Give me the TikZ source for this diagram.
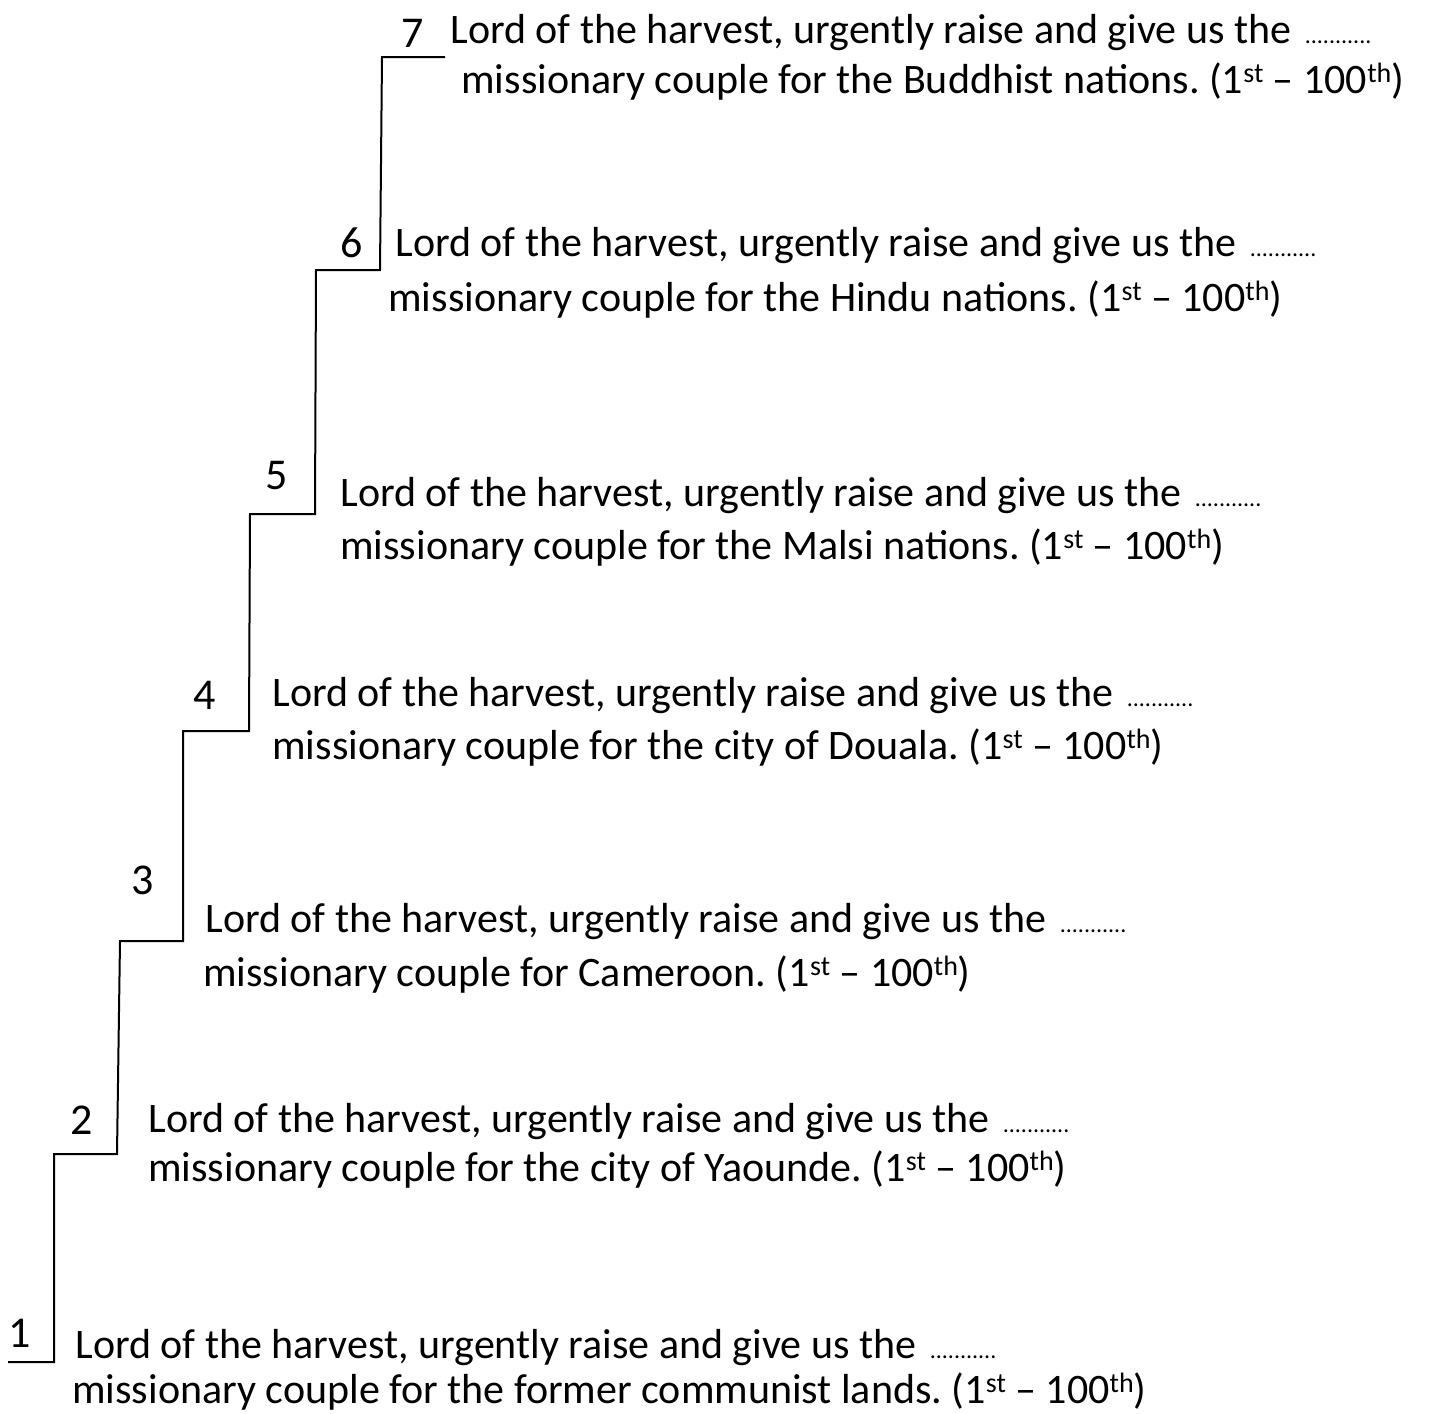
\documentclass[tikz,border=0pt]{standalone}
\usepackage{fontspec}
\setmainfont{Carlito}
\usetikzlibrary{positioning}
\frenchspacing

\tikzset{
  stair/.style={line width=1pt},
  stepnum/.style={anchor=base, inner sep=0pt, font=\fontsize{22}{26}\selectfont},
  prayer/.style={anchor=base west, inner sep=0pt, font=\fontsize{21}{25}\selectfont},
}
\newcommand{\filler}{\hspace{2pt}{\fontsize{12}{12}\selectfont ...........}}
\newcommand{\sups}[1]{\raisebox{5.5pt}{\fontsize{14}{14}\selectfont #1}}
\newcommand{\range}{(1\sups{st} – 100\sups{th})}

\begin{document}
\begin{tikzpicture}[x=0.5pt, y=-0.5pt]
	\useasboundingbox (0,0) rectangle (1431,1414);

	% corners of the stairs
	\coordinate (c0) at (8,1362);
	\coordinate (c1) at (54,1362);
	\coordinate (c2) at (54,1154);
	\coordinate (c3) at (117,1154);
	\coordinate (c4) at (120,941);
	\coordinate (c5) at (183,941);
	\coordinate (c6) at (183,731);
	\coordinate (c7) at (249,731);
	\coordinate (c8) at (250,514);
	\coordinate (c9) at (315,514);
	\coordinate (c10) at (316,270);
	\coordinate (c11) at (380,270);
	\coordinate (c12) at (382,57);
	\coordinate (c13) at (445,57);
	\draw [stair] (c0) -- (c1) -- (c2) -- (c3) -- (c4) -- (c5) -- (c6) -- (c7)
		-- (c8) -- (c9) -- (c10) -- (c11) -- (c12) -- (c13);

	% step numbers
	\node [stepnum] (n1) at (20,1347) {1};
	\node [stepnum] (n2) at (82,1134) {2};
	\node [stepnum] (n3) at (143,894) {3};
	\node [stepnum] (n4) at (205,709) {4};
	\node [stepnum] (n5) at (277,489) {5};
	\node [stepnum] (n6) at (352,257) {6};
	\node [stepnum] (n7) at (413,47) {7};

	% prayers
	\node [prayer] (lord1) at (75,1358) {Lord of the harvest, urgently raise and give us the \filler};
	\node [prayer] (miss1) at (72,1403) {missionary couple for the former communist lands. \range};

	\node [prayer] (lord2) at (148,1132) {Lord of the harvest, urgently raise and give us the \filler};
	\node [prayer] (miss2) at (148,1181) {missionary couple for the city of Yaounde. \range};

	\node [prayer] (lord3) at (205,932) {Lord of the harvest, urgently raise and give us the \filler};
	\node [prayer] (miss3) at (203,986) {missionary couple for Cameroon. \range};

	\node [prayer] (lord4) at (272,706) {Lord of the harvest, urgently raise and give us the \filler};
	\node [prayer] (miss4) at (272,759) {missionary couple for the city of Douala. \range};

	\node [prayer] (lord5) at (340,506) {Lord of the harvest, urgently raise and give us the \filler};
	\node [prayer] (miss5) at (340,559) {missionary couple for the Malsi nations. \range};

	\node [prayer] (lord6) at (395,256) {Lord of the harvest, urgently raise and give us the \filler};
	\node [prayer] (miss6) at (388,311) {missionary couple for the Hindu nations. \range};

	\node [prayer] (lord7) at (450,43) {Lord of the harvest, urgently raise and give us the \filler};
	\node [prayer] (miss7) at (461,93) {missionary couple for the Buddhist nations. \range};
\end{tikzpicture}
\end{document}
